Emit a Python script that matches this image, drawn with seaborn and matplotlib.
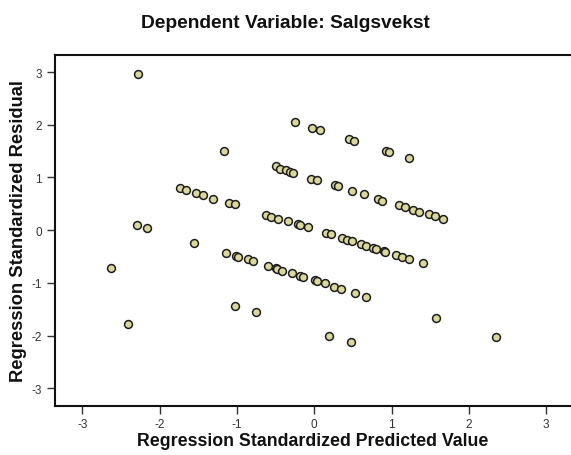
import matplotlib
matplotlib.use("Agg")
import matplotlib.pyplot as plt
import seaborn as sns
import pandas as pd

predicted = [
    -2.28, -0.25, -0.03, 0.07, 0.45, 0.51, 0.93, 0.97, 1.23, -1.17,
    -0.50, -0.44, -0.37, -0.32, -0.27, -0.04, 0.03, 0.27, 0.31, 0.49, 0.64,
    0.82, 0.88, 1.10, 1.17, 1.28, 1.36, 1.48, 1.56, 1.66,
    -1.74, -1.66, -1.53, -1.44, -1.31, -1.10, -1.03,
    -0.62, -0.56, -0.47, -0.34, -0.21, -0.19, -0.08, 0.15, 0.21,
    0.36, 0.42, 0.49, 0.61, 0.67, 0.76, 0.80, 0.90, 0.92, 1.06, 1.13, 1.22, 1.40,
    -2.29, -2.17, -1.55, -2.63, -1.14, -1.01, -0.99, -0.86, -0.79,
    -0.60, -0.50, -0.48, -0.42, -0.29, -0.18, -0.15, 0.01, 0.04, 0.14,
    0.25, 0.34, 0.53, 0.67,
    -1.03, -0.75, -2.41, 1.57, 0.19, 0.47, 2.35,
]
residual = [
    2.97, 2.05, 1.94, 1.90, 1.73, 1.70, 1.51, 1.49, 1.37, 1.50,
    1.21, 1.17, 1.14, 1.11, 1.08, 0.98, 0.95, 0.86, 0.83, 0.74, 0.69,
    0.59, 0.55, 0.48, 0.44, 0.38, 0.35, 0.30, 0.26, 0.21,
    0.80, 0.76, 0.70, 0.66, 0.60, 0.51, 0.49,
    0.29, 0.25, 0.21, 0.17, 0.12, 0.10, 0.06, -0.05, -0.08,
    -0.15, -0.18, -0.21, -0.26, -0.30, -0.33, -0.35, -0.40, -0.41, -0.47, -0.50, -0.55, -0.62,
    0.10, 0.05, -0.25, -0.72, -0.43, -0.49, -0.50, -0.55, -0.59,
    -0.67, -0.72, -0.74, -0.77, -0.81, -0.86, -0.88, -0.95, -0.96, -1.00,
    -1.07, -1.11, -1.19, -1.26,
    -1.44, -1.56, -1.78, -1.66, -2.00, -2.13, -2.02,
]
ticks = [-3, -2, -1, 0, 1, 2, 3]

df = pd.DataFrame({"pred": predicted, "resid": residual})

sns.set_style("ticks")
plt.rcParams["font.family"] = ["Liberation Sans", "DejaVu Sans"]

fig = plt.figure(figsize=(5.71, 4.56), dpi=100)
ax = fig.add_axes([0.0955, 0.108, 0.9045, 0.77])

sns.scatterplot(data=df, x="pred", y="resid", ax=ax, s=32,
                color="#dbd89c", edgecolor="#1e1e1e", linewidth=1.1, zorder=3)

ax.set_xlim(-3.36, 3.32)
ax.set_ylim(-3.33, 3.33)
ax.set_xticks(ticks)
ax.set_yticks(ticks)
ax.set_xticklabels([str(t) for t in ticks])
ax.set_yticklabels([str(t) for t in ticks])
ax.tick_params(axis="both", direction="out", length=6, width=1.0,
               color="#333333", labelcolor="#333333", labelsize=8.5, pad=3)

for side in ["left", "top", "bottom"]:
    ax.spines[side].set_visible(True)
    ax.spines[side].set_color("#111111")
    ax.spines[side].set_linewidth(1.5)
ax.spines["right"].set_visible(False)

ax.set_xlabel("Regression Standardized Predicted Value", fontsize=12.8,
              fontweight="bold", color="#111111", labelpad=1)
ax.set_ylabel("Regression Standardized Residual", fontsize=13.2,
              fontweight="bold", color="#111111", labelpad=3)
fig.text(0.5, 0.948, "Dependent Variable: Salgsvekst", ha="center", va="center",
         fontsize=13.8, fontweight="bold", color="#111111")

fig.savefig("out.png", dpi=100)
